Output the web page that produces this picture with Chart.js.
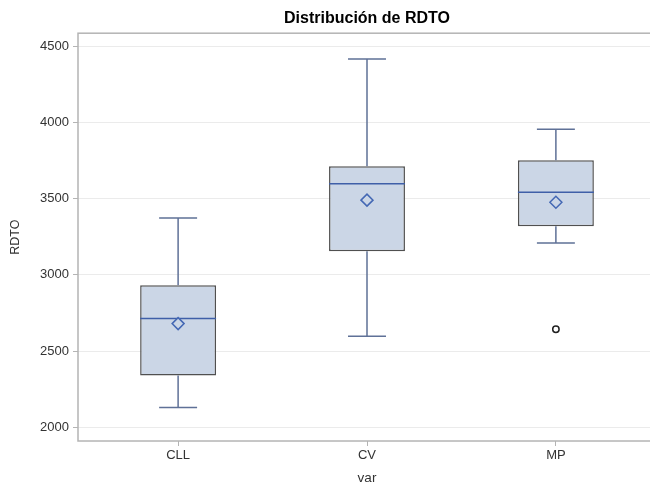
<!DOCTYPE html>
<html>
<head>
<meta charset="utf-8">
<script src="https://cdn.jsdelivr.net/npm/chart.js@4"></script>
<style>
  body { margin: 0; overflow: hidden; background: #fff; }
</style>
</head>
<body>
<canvas id="grafico" width="670" height="486"></canvas>
<script>
// datos del boxplot
const categorias = ["CLL", "CV", "MP"];
const minimo = [2129, 2597, 3209];
const q1 = [2339, 3155, 3319];
const mediana = [2713, 3597, 3542];
const q3 = [2932, 3713, 3752];
const maximo = [3373, 4415, 3955];
const media = [2680, 3490, 3476];
const atipicos = [[], [], [2643]];
const ticksY = [2000, 2500, 3000, 3500, 4000, 4500];

const colorCaja = "#cbd6e6";
const colorBordeCaja = "#505050";
const colorBigote = "#5f7197";
const colorMediana = "#3f5fa8";
const fuente = "Liberation Sans, Arial, sans-serif";

// bigotes, topes y mediana dibujados con las escalas del grafico
const bigotes = {
  id: "bigotes",
  afterDatasetDraw(chart, args) {
    if (args.index !== 0) return;
    const ctx = chart.ctx;
    const xs = chart.scales.x, ys = chart.scales.y;
    const barras = chart.getDatasetMeta(0).data;
    ctx.save();
    categorias.forEach((c, i) => {
      const x = xs.getPixelForValue(i);
      const ancho = barras[i].width;
      ctx.strokeStyle = colorBigote;
      ctx.lineWidth = 1.5;
      ctx.beginPath();
      ctx.moveTo(x, ys.getPixelForValue(q3[i]));
      ctx.lineTo(x, ys.getPixelForValue(maximo[i]));
      ctx.moveTo(x, ys.getPixelForValue(q1[i]));
      ctx.lineTo(x, ys.getPixelForValue(minimo[i]));
      ctx.moveTo(x - ancho / 4, ys.getPixelForValue(maximo[i]));
      ctx.lineTo(x + ancho / 4, ys.getPixelForValue(maximo[i]));
      ctx.moveTo(x - ancho / 4, ys.getPixelForValue(minimo[i]));
      ctx.lineTo(x + ancho / 4, ys.getPixelForValue(minimo[i]));
      ctx.stroke();
      ctx.strokeStyle = colorMediana;
      ctx.beginPath();
      ctx.moveTo(x - ancho / 2, ys.getPixelForValue(mediana[i]));
      ctx.lineTo(x + ancho / 2, ys.getPixelForValue(mediana[i]));
      ctx.stroke();
    });
    ctx.restore();
  },
  afterDraw(chart) {
    const a = chart.chartArea;
    const ctx = chart.ctx;
    ctx.save();
    ctx.strokeStyle = "#b4b4b4";
    ctx.lineWidth = 1.5;
    ctx.strokeRect(a.left, a.top, a.right - a.left, a.bottom - a.top);
    ctx.restore();
  }
};

const puntosAtipicos = [];
atipicos.forEach((lista, i) => lista.forEach(v => puntosAtipicos.push({ x: i, y: v })));

new Chart(document.getElementById("grafico"), {
  type: "bar",
  data: {
    datasets: [
      {
        type: "bar",
        order: 3,
        data: categorias.map((c, i) => ({ x: i, y: [q1[i], q3[i]] })),
        backgroundColor: colorCaja,
        borderColor: colorBordeCaja,
        borderWidth: 1.5,
        borderSkipped: false,
        categoryPercentage: 0.402,
        barPercentage: 1
      },
      {
        type: "scatter",
        order: 1,
        data: categorias.map((c, i) => ({ x: i, y: media[i] })),
        pointStyle: "rectRot",
        pointRadius: 6,
        backgroundColor: colorCaja,
        borderColor: "#4468b4",
        borderWidth: 1.5
      },
      {
        type: "scatter",
        order: 0,
        data: puntosAtipicos,
        pointStyle: "circle",
        pointRadius: 3.2,
        backgroundColor: "#ffffff",
        borderColor: "#222222",
        borderWidth: 1.5
      }
    ]
  },
  options: {
    responsive: false,
    animation: false,
    layout: { padding: { right: 14, bottom: 0 } },
    plugins: {
      legend: { display: false },
      tooltip: { enabled: false },
      title: {
        display: true,
        text: "Distribución de RDTO",
        fullSize: false,
        color: "#000",
        font: { family: fuente, size: 16, weight: "bold" },
        padding: { top: 9, bottom: 5 }
      }
    },
    scales: {
      x: {
        type: "linear",
        offset: false,
        min: -0.53,
        max: 2.53,
        afterBuildTicks: s => { s.ticks = categorias.map((c, i) => ({ value: i })); },
        afterFit: s => { s.height = 45; },
        ticks: {
          callback: v => categorias[v],
          color: "#333",
          padding: 2,
          font: { family: fuente, size: 13 }
        },
        grid: { offset: false, drawOnChartArea: false, tickLength: 5, tickColor: "#b4b4b4" },
        border: { display: false },
        title: {
          display: true,
          text: "var",
          color: "#333",
          padding: { top: 0, bottom: 0 },
          font: { family: fuente, size: 13.5 }
        }
      },
      y: {
        min: 1910,
        max: 4585,
        afterBuildTicks: s => { s.ticks = ticksY.map(v => ({ value: v })); },
        afterFit: s => { s.width = 78; },
        ticks: {
          callback: v => String(v),
          color: "#333",
          padding: 4,
          font: { family: fuente, size: 13 }
        },
        grid: { color: "#ebebeb", lineWidth: 1, tickLength: 5, tickColor: "#b4b4b4" },
        border: { display: false },
        title: {
          display: true,
          text: "RDTO",
          color: "#333",
          padding: { top: 8, bottom: 0 },
          font: { family: fuente, size: 12.5 }
        }
      }
    }
  },
  plugins: [bigotes]
});
</script>
</body>
</html>
